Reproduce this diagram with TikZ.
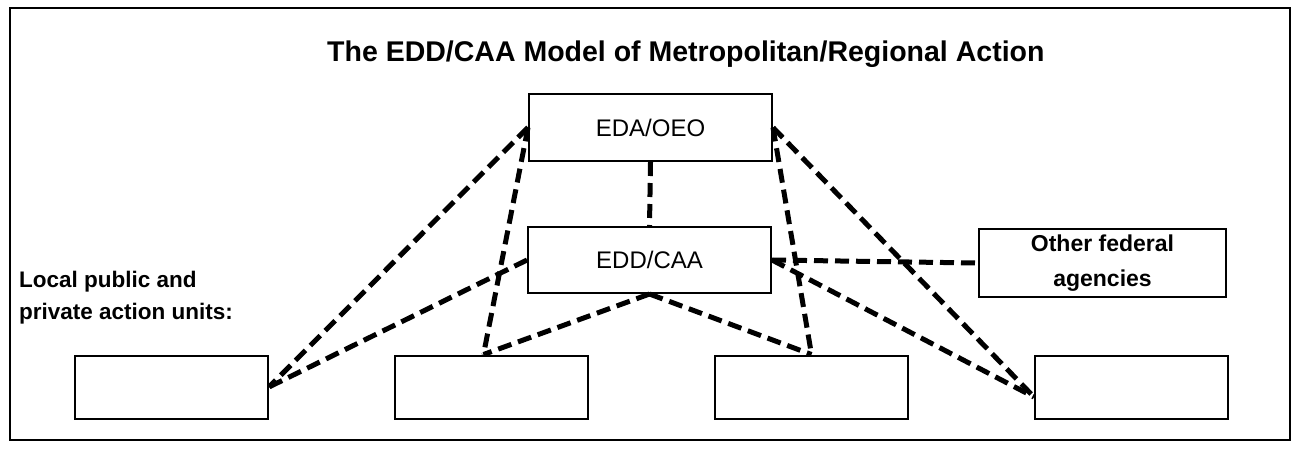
\documentclass[tikz,border=0pt]{standalone}
\usepackage{fontspec}
\setmainfont{Liberation Sans}
\usetikzlibrary{positioning}

\begin{document}
\begin{tikzpicture}[x = 1pt, y = -1pt, % one unit per pixel, y going down
        node distance = 125pt, % gap between the action units
        every node/.style = {font = \fontsize{24}{30}\selectfont},
        agency/.style = {draw = black, line width = 2pt, inner sep = 0pt,
            minimum width = 243pt, minimum height = 67pt},
        unit/.style = {draw = black, line width = 2pt,
            minimum width = 193pt, minimum height = 63pt},
        link/.style = {line width = 5pt, dash pattern = on 14pt off 7pt}
    ]

    \useasboundingbox (0,0) rectangle (1300,450);
    \draw[line width = 1.5pt] (10,8) rectangle (1290,440);

    \node[font = \bfseries\fontsize{28.5}{32}\selectfont, anchor = base east]
        (title) at (1048,61) {The EDD/CAA Model of Metropolitan/Regional Action};

    \node[agency] (eda) at (650.5,127.5) {EDA/OEO};
    \node[agency, minimum height = 66pt] (caa) at (649.5,260) {EDD/CAA};
    \node[agency, minimum width = 247pt, minimum height = 68pt, align = center,
        font = \bfseries\fontsize{23}{35}\selectfont]
        (other) at (1102.5,263) {Other federal\\agencies};

    \node[align = left, anchor = north west, inner sep = 0pt,
        font = \bfseries\fontsize{22.5}{32}\selectfont]
        (local) at (19,271) {Local public and\\private action units:};

    \node[unit] (u1) at (171.5,387) {};
    \node[unit] (u2) [right = of u1] {};
    \node[unit] (u3) [right = of u2] {};
    \node[unit] (u4) [right = of u3] {};

    \path[link] (eda.west) edge (u1.east) edge ([xshift = -8pt]u2.north);
    \path[link] (eda.east) edge (u3.north) edge ([yshift = -10pt]u4.west);
    \path[link] (eda.south) edge (caa.north);
    \path[link] (caa.west) edge (u1.east);
    \path[link] (caa.south) edge ([xshift = -8pt]u2.north) edge (u3.north);
    \path[link] (caa.east) edge (other.west) edge ([yshift = -10pt]u4.west);
\end{tikzpicture}
\end{document}
